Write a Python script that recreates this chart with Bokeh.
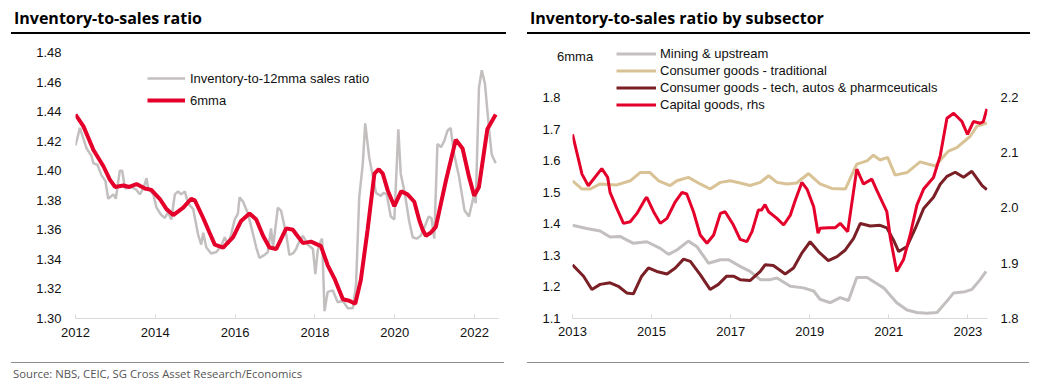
from bokeh.plotting import figure
from bokeh.models import (Range1d, LinearAxis, FixedTicker, PrintfTickFormatter,
                          Legend, LegendItem, Div)
from bokeh.layouts import column, row
from bokeh.embed import file_html
from bokeh.resources import INLINE

# ---------------- data: left chart ----------------
ratio_t = [2012.0, 2012.11, 2012.28, 2012.4, 2012.45, 2012.55, 2012.65, 2012.75, 2012.82, 2012.95,
           2013.01, 2013.11, 2013.17, 2013.24, 2013.4, 2013.53, 2013.61, 2013.7, 2013.78, 2013.82,
           2013.95, 2014.03, 2014.15, 2014.24, 2014.32, 2014.4, 2014.49, 2014.57, 2014.65, 2014.74,
           2014.82, 2014.95, 2015.07, 2015.15, 2015.2, 2015.28, 2015.4, 2015.53, 2015.65, 2015.74,
           2015.82, 2015.9, 2015.99, 2016.07, 2016.11, 2016.2, 2016.32, 2016.45, 2016.53, 2016.61,
           2016.74, 2016.82, 2016.9, 2016.95, 2017.07, 2017.15, 2017.28, 2017.36, 2017.45, 2017.53,
           2017.57, 2017.7, 2017.82, 2017.95, 2018.01, 2018.07, 2018.14, 2018.18, 2018.24, 2018.32,
           2018.45, 2018.57, 2018.7, 2018.82, 2018.95, 2019.03, 2019.11, 2019.2, 2019.26, 2019.36,
           2019.53, 2019.65, 2019.72, 2019.8, 2019.9, 2019.99, 2020.09, 2020.15, 2020.25, 2020.36,
           2020.45, 2020.55, 2020.65, 2020.75, 2020.85, 2020.92, 2020.99, 2021.07, 2021.16, 2021.24,
           2021.32, 2021.4, 2021.49, 2021.61, 2021.75, 2021.86, 2021.99, 2022.03, 2022.11, 2022.18,
           2022.26, 2022.36, 2022.43, 2022.53]
ratio_v = [1.417, 1.429, 1.415, 1.410, 1.405, 1.404, 1.397, 1.393, 1.381, 1.384,
           1.381, 1.400, 1.400, 1.388, 1.389, 1.387, 1.384, 1.388, 1.395, 1.388,
           1.384, 1.375, 1.370, 1.368, 1.372, 1.367, 1.384, 1.386, 1.384, 1.386,
           1.378, 1.374, 1.357, 1.350, 1.358, 1.348, 1.344, 1.345, 1.349, 1.355,
           1.350, 1.357, 1.367, 1.371, 1.382, 1.379, 1.371, 1.357, 1.348, 1.341,
           1.343, 1.345, 1.361, 1.348, 1.375, 1.373, 1.357, 1.343, 1.344, 1.347,
           1.350, 1.356, 1.350, 1.347, 1.330, 1.346, 1.352, 1.354, 1.305, 1.318,
           1.319, 1.311, 1.312, 1.307, 1.307, 1.323, 1.382, 1.405, 1.432, 1.409,
           1.385, 1.383, 1.385, 1.384, 1.369, 1.367, 1.428, 1.398, 1.385, 1.366,
           1.355, 1.354, 1.356, 1.362, 1.369, 1.368, 1.354, 1.418, 1.416, 1.420,
           1.427, 1.429, 1.411, 1.396, 1.373, 1.369, 1.384, 1.378, 1.456, 1.468,
           1.459, 1.429, 1.411, 1.405]

mma_t = [2012.0, 2012.2, 2012.45, 2012.7, 2012.86, 2012.99, 2013.2, 2013.35, 2013.53, 2013.74,
         2013.9, 2014.11, 2014.28, 2014.45, 2014.7, 2014.9, 2014.99, 2015.2, 2015.36, 2015.49,
         2015.7, 2015.95, 2016.15, 2016.36, 2016.53, 2016.7, 2016.86, 2017.03, 2017.28, 2017.45,
         2017.53, 2017.7, 2017.9, 2018.15, 2018.32, 2018.49, 2018.7, 2018.86, 2019.01, 2019.15,
         2019.32, 2019.49, 2019.6, 2019.7, 2019.82, 2019.99, 2020.16, 2020.32, 2020.49, 2020.62,
         2020.7, 2020.78, 2020.9, 2021.03, 2021.28, 2021.53, 2021.7, 2021.86, 2021.99, 2022.11,
         2022.32, 2022.53]
mma_v = [1.438, 1.430, 1.414, 1.403, 1.394, 1.389, 1.390, 1.389, 1.391, 1.388,
         1.387, 1.381, 1.374, 1.370, 1.375, 1.381, 1.380, 1.368, 1.358, 1.350,
         1.348, 1.355, 1.366, 1.371, 1.367, 1.356, 1.348, 1.347, 1.361, 1.360,
         1.357, 1.351, 1.352, 1.349, 1.336, 1.327, 1.313, 1.312, 1.310, 1.326,
         1.360, 1.398, 1.401, 1.398, 1.387, 1.376, 1.386, 1.384, 1.379, 1.366,
         1.360, 1.356, 1.358, 1.362, 1.393, 1.421, 1.415, 1.396, 1.383, 1.389,
         1.428, 1.438]

left_yticks = [1.30, 1.32, 1.34, 1.36, 1.38, 1.40, 1.42, 1.44, 1.46, 1.48]
left_xticks = [2012, 2014, 2016, 2018, 2020, 2022]

# ---------------- data: right chart ----------------
mining_t = [2013.0, 2013.36, 2013.7, 2013.95, 2014.2, 2014.54, 2014.88, 2015.22, 2015.43, 2015.64,
            2015.93, 2016.15, 2016.44, 2016.74, 2016.95, 2017.24, 2017.49, 2017.75, 2018.0, 2018.17,
            2018.51, 2018.84, 2019.1, 2019.26, 2019.52, 2019.77, 2019.98, 2020.19, 2020.45, 2020.66,
            2020.87, 2021.2, 2021.46, 2021.71, 2021.96, 2022.22, 2022.47, 2022.64, 2022.93, 2023.1,
            2023.31, 2023.46]
mining_v = [1.395, 1.385, 1.377, 1.358, 1.360, 1.338, 1.343, 1.322, 1.303, 1.317,
            1.345, 1.327, 1.275, 1.286, 1.286, 1.265, 1.249, 1.223, 1.223, 1.228,
            1.202, 1.197, 1.187, 1.161, 1.150, 1.166, 1.157, 1.230, 1.230, 1.213,
            1.197, 1.150, 1.127, 1.119, 1.117, 1.119, 1.155, 1.181, 1.185, 1.192,
            1.223, 1.249]

trad_t = [2013.0, 2013.24, 2013.45, 2013.7, 2014.12, 2014.46, 2014.71, 2014.96, 2015.18, 2015.47,
          2015.64, 2015.93, 2016.23, 2016.48, 2016.74, 2016.99, 2017.24, 2017.49, 2017.75, 2017.96,
          2018.17, 2018.42, 2018.67, 2018.97, 2019.26, 2019.56, 2019.9, 2020.19, 2020.45, 2020.61,
          2020.78, 2020.97, 2021.16, 2021.46, 2021.79, 2022.17, 2022.51, 2022.72, 2023.06, 2023.23,
          2023.48]
trad_v = [1.536, 1.510, 1.510, 1.526, 1.523, 1.536, 1.562, 1.562, 1.536, 1.521,
          1.536, 1.547, 1.526, 1.510, 1.531, 1.536, 1.529, 1.521, 1.531, 1.552,
          1.531, 1.526, 1.529, 1.559, 1.526, 1.512, 1.510, 1.589, 1.599, 1.617,
          1.602, 1.610, 1.554, 1.562, 1.596, 1.583, 1.630, 1.641, 1.677, 1.709,
          1.719]

tech_t = [2013.0, 2013.28, 2013.49, 2013.7, 2013.95, 2014.16, 2014.37, 2014.54, 2014.75, 2014.92,
          2015.13, 2015.39, 2015.6, 2015.81, 2015.98, 2016.23, 2016.48, 2016.69, 2016.9, 2017.07,
          2017.24, 2017.49, 2017.75, 2017.87, 2018.08, 2018.38, 2018.59, 2018.8, 2019.01, 2019.22,
          2019.47, 2019.69, 2019.9, 2020.11, 2020.28, 2020.53, 2020.78, 2020.95, 2021.12, 2021.25,
          2021.46, 2021.67, 2021.88, 2022.13, 2022.3, 2022.47, 2022.68, 2022.89, 2023.1, 2023.36,
          2023.48]
tech_v = [1.270, 1.234, 1.192, 1.208, 1.213, 1.202, 1.181, 1.178, 1.234, 1.260,
          1.249, 1.241, 1.260, 1.288, 1.281, 1.239, 1.192, 1.208, 1.234, 1.234,
          1.223, 1.220, 1.249, 1.270, 1.268, 1.241, 1.260, 1.307, 1.343, 1.312,
          1.283, 1.296, 1.317, 1.354, 1.401, 1.393, 1.395, 1.387, 1.348, 1.312,
          1.328, 1.385, 1.448, 1.484, 1.525, 1.550, 1.563, 1.547, 1.566, 1.521,
          1.508]

capital_t = [2013.0, 2013.15, 2013.24, 2013.4, 2013.74, 2013.89, 2013.95, 2014.12, 2014.29, 2014.46,
             2014.63, 2014.84, 2014.88, 2015.05, 2015.22, 2015.39, 2015.6, 2015.77, 2015.89, 2016.06,
             2016.23, 2016.4, 2016.57, 2016.74, 2016.86, 2017.07, 2017.24, 2017.41, 2017.54, 2017.7,
             2017.78, 2017.87, 2017.96, 2018.17, 2018.34, 2018.51, 2018.63, 2018.8, 2018.93, 2019.1,
             2019.21, 2019.26, 2019.47, 2019.64, 2019.77, 2019.96, 2020.19, 2020.36, 2020.57, 2020.7,
             2020.95, 2021.04, 2021.2, 2021.37, 2021.54, 2021.71, 2021.88, 2022.13, 2022.3, 2022.47,
             2022.64, 2022.85, 2022.99, 2023.14, 2023.31, 2023.39, 2023.48]
capital_v = [2.133, 2.088, 2.061, 2.040, 2.071, 2.055, 2.028, 1.999, 1.972, 1.975,
             1.990, 2.016, 2.019, 1.993, 1.972, 1.981, 2.011, 2.028, 2.025, 1.993,
             1.951, 1.936, 1.951, 1.990, 1.993, 1.969, 1.943, 1.939, 1.957, 1.996,
             1.996, 2.006, 1.993, 1.981, 1.969, 1.987, 2.013, 2.046, 2.034, 2.002,
             1.954, 1.963, 1.964, 1.964, 1.972, 1.957, 2.070, 2.043, 2.052, 2.031,
             1.993, 1.945, 1.885, 1.906, 1.951, 2.005, 2.034, 2.055, 2.094, 2.162,
             2.171, 2.156, 2.133, 2.156, 2.153, 2.156, 2.179]

right_lticks = [1.1, 1.2, 1.3, 1.4, 1.5, 1.6, 1.7, 1.8]
right_rticks = [1.8, 1.9, 2.0, 2.1, 2.2]
right_xticks = [2013, 2015, 2017, 2019, 2021, 2023]

# ---------------- styles ----------------
GREY = "#c3bfbf"
RED = "#e4002b"
TAN = "#d9c396"
DARK = "#7b1f26"
AXIS = "#d9d9d9"
FONT = "Liberation Sans"


def style_common(p, transparent=False):
    p.outline_line_color = None
    p.xgrid.visible = False
    p.ygrid.visible = False
    if transparent:
        p.background_fill_color = None
        p.border_fill_color = None
    else:
        p.background_fill_color = "white"
        p.border_fill_color = "white"


def style_xaxis(ax, ticks, standoff):
    ax.ticker = FixedTicker(ticks=ticks, minor_ticks=[])
    ax.formatter = PrintfTickFormatter(format="%d")
    ax.axis_line_color = AXIS
    ax.axis_line_width = 1.2
    ax.major_tick_line_color = AXIS
    ax.major_tick_in = 4
    ax.major_tick_out = 0
    ax.minor_tick_line_color = None
    ax.major_label_text_font = FONT
    ax.major_label_text_font_size = "13px"
    ax.major_label_text_color = "#111111"
    ax.major_label_standoff = standoff


def style_yaxis(ax, ticks, fmt, standoff):
    ax.ticker = FixedTicker(ticks=ticks, minor_ticks=[])
    ax.formatter = PrintfTickFormatter(format=fmt)
    ax.axis_line_color = None
    ax.major_tick_line_color = None
    ax.minor_tick_line_color = None
    ax.major_tick_in = 0
    ax.major_tick_out = 0
    ax.major_label_text_font = FONT
    ax.major_label_text_font_size = "13px"
    ax.major_label_text_color = "#111111"
    ax.major_label_standoff = standoff


# ---------------- left figure ----------------
p1 = figure(width=516, height=324, x_range=Range1d(2012.0, 2022.6),
            y_range=Range1d(1.30, 1.4847), output_backend="svg", toolbar_location=None,
            min_border_left=67, min_border_right=26, min_border_top=9, min_border_bottom=42)
style_common(p1)
style_xaxis(p1.xaxis[0], left_xticks, 9)
style_yaxis(p1.yaxis[0], left_yticks, "%.2f", 14)

r_grey = p1.line(ratio_t, ratio_v, line_color=GREY, line_width=2.5)
r_red = p1.line(mma_t, mma_v, line_color=RED, line_width=4)

leg1 = Legend(items=[LegendItem(label="Inventory-to-12mma sales ratio", renderers=[r_grey]),
                     LegendItem(label="6mma", renderers=[r_red])],
              location=(72, 208), orientation="vertical",
              glyph_width=38, glyph_height=20, label_height=20, spacing=2,
              label_standoff=5, padding=0, margin=0,
              border_line_color=None, background_fill_alpha=0,
              label_text_font=FONT, label_text_font_size="13px", label_text_color="#111111")
p1.add_layout(leg1)

# ---------------- right figure ----------------
p2 = figure(width=512, height=324, x_range=Range1d(2013.0, 2023.496),
            y_range=Range1d(1.1, 1.9644), output_backend="svg", toolbar_location=None,
            min_border_left=48, min_border_right=49, min_border_top=9, min_border_bottom=39)
style_common(p2, transparent=True)
p2.extra_y_ranges = {"rhs": Range1d(1.8, 2.2935)}
style_xaxis(p2.xaxis[0], right_xticks, 8)
style_yaxis(p2.yaxis[0], right_lticks, "%.1f", 12)
rax = LinearAxis(y_range_name="rhs")
style_yaxis(rax, right_rticks, "%.1f", 13)
p2.add_layout(rax, "right")

r_min = p2.line(mining_t, mining_v, line_color=GREY, line_width=3)
r_trad = p2.line(trad_t, trad_v, line_color=TAN, line_width=3)
r_tech = p2.line(tech_t, tech_v, line_color=DARK, line_width=3)
r_cap = p2.line(capital_t, capital_v, line_color=RED, line_width=3, y_range_name="rhs")

leg2 = Legend(items=[LegendItem(label="Mining & upstream", renderers=[r_min]),
                     LegendItem(label="Consumer goods - traditional", renderers=[r_trad]),
                     LegendItem(label="Consumer goods - tech, autos & pharmceuticals", renderers=[r_tech]),
                     LegendItem(label="Capital goods, rhs", renderers=[r_cap])],
              location=(44, 206), orientation="vertical",
              glyph_width=40, glyph_height=15, label_height=15, spacing=2,
              label_standoff=4, padding=0, margin=0,
              border_line_color=None, background_fill_alpha=0,
              label_text_font=FONT, label_text_font_size="13px", label_text_color="#111111")
p2.add_layout(leg2)

# ---------------- headers / footer ----------------
TITLE_CSS = ("font-family:'Open Sans';font-weight:700;font-size:16px;color:#000;"
             "height:24px;line-height:20px;padding-left:3px;border-bottom:2px solid #000;"
             "box-sizing:content-box;position:relative;white-space:nowrap;")
UNIT_CSS = ("position:absolute;left:30px;top:41px;font-family:'Liberation Sans';font-weight:400;"
            "font-size:13px;line-height:15px;color:#111;z-index:10;white-space:nowrap;")
d1 = Div(text=f"<div style=\"margin-left:3px;width:492px;{TITLE_CSS}\">Inventory-to-sales ratio</div>",
         width=516, height=28, margin=0)
d2 = Div(text=f"<div style=\"margin-left:3px;width:500px;{TITLE_CSS}\">Inventory-to-sales ratio by subsector"
              f"<span style=\"{UNIT_CSS}\">6mma</span></div>",
         width=512, height=28, margin=0, styles={"overflow": "visible", "z-index": "10"})
FOOT_CSS = ("border-top:1px solid #8c8c8c;margin-top:2px;padding-top:4px;height:14px;line-height:14px;"
            "font-family:'Open Sans';font-size:11.3px;color:#555;white-space:nowrap;")
d3 = Div(text=f"<div style=\"margin-left:3px;width:493px;padding-left:2px;{FOOT_CSS}\">"
              "Source: NBS, CEIC, SG Cross Asset Research/Economics</div>",
         width=516, height=22, margin=0)
d4 = Div(text=f"<div style=\"margin-left:3px;width:502px;{FOOT_CSS}\"></div>",
         width=512, height=22, margin=0)

layout = column(row(d1, d2, spacing=0), row(p1, p2, spacing=0), row(d3, d4, spacing=0),
                spacing=0, margin=(8, 8, 0, 8))

with open("out.html", "w") as f:
    f.write(file_html(layout, INLINE))
